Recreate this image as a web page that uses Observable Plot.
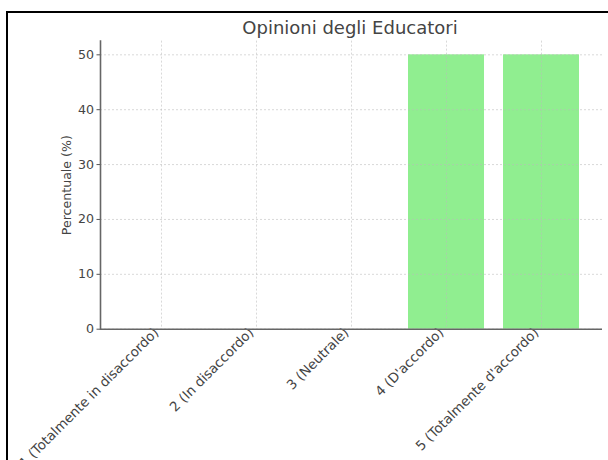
<!DOCTYPE html>
<html>
<head>
<meta charset="utf-8">
<script src="https://cdn.jsdelivr.net/npm/d3@7"></script>
<script src="https://cdn.jsdelivr.net/npm/@observablehq/plot@0.6"></script>
<style>
  html, body { margin: 0; padding: 0; background: #fff; }
  #wrap { position: relative; width: 608px; height: 460px; overflow: hidden; font-family: "DejaVu Sans", sans-serif; }
  #frame { position: absolute; left: 6px; top: 11px; width: 700px; height: 600px; border-top: 2px solid #000; border-left: 2px solid #000; }
  #title { position: absolute; left: 0; width: 700px; top: 17px; text-align: center; font-size: 18px; color: #444; margin-left: 0; }
  #chart { position: absolute; left: 0; top: 0; }
</style>
</head>
<body>
<div id="wrap">
  <div id="frame"></div>
  <div id="chart"></div>
  <div id="title">Opinioni degli Educatori</div>
</div>
<script>
const categories = ["1 (Totalmente in disaccordo)", "2 (In disaccordo)", "3 (Neutrale)", "4 (D'accordo)", "5 (Totalmente d'accordo)"];
const percentages = [0, 0, 0, 50, 50];
const yTicks = [0, 10, 20, 30, 40, 50];
const yLabel = "Percentuale (%)";

const data = categories.map((c, i) => ({category: c, value: percentages[i]}));

const chart = Plot.plot({
  width: 608,
  height: 460,
  marginLeft: 100,
  marginRight: 6,
  marginTop: 40.6,
  marginBottom: 131.3,
  style: {fontFamily: "DejaVu Sans, sans-serif", fontSize: "12.6px", color: "#444", background: "transparent"},
  x: {domain: categories, paddingInner: 0.2, paddingOuter: 0.24, align: 0.5},
  y: {domain: [0, 52.5]},
  marks: [
    Plot.barY(data, {x: "category", y: "value", fill: "#90EE90"}),
    Plot.gridX(categories, {stroke: "#bbb", strokeOpacity: 0.7, strokeDasharray: "2,2", strokeWidth: 0.8}),
    Plot.gridY(yTicks, {stroke: "#bbb", strokeOpacity: 0.7, strokeDasharray: "2,2", strokeWidth: 0.8}),
    Plot.axisY({ticks: yTicks, label: yLabel, labelAnchor: "center", labelArrow: "none", tickSize: 3.5, tickPadding: 3, labelOffset: 38, stroke: "#555"}),
    Plot.axisX({tickRotate: -45, tickSize: 0, tickPadding: 6, dx: -5, dy: -5, label: null, fontSize: 13.4}),
    Plot.ruleY([0], {stroke: "#666", strokeWidth: 1.6}),
    Plot.frame({anchor: "left", stroke: "#666", strokeWidth: 1.6})
  ]
});
document.getElementById("chart").appendChild(chart);
</script>
</body>
</html>
